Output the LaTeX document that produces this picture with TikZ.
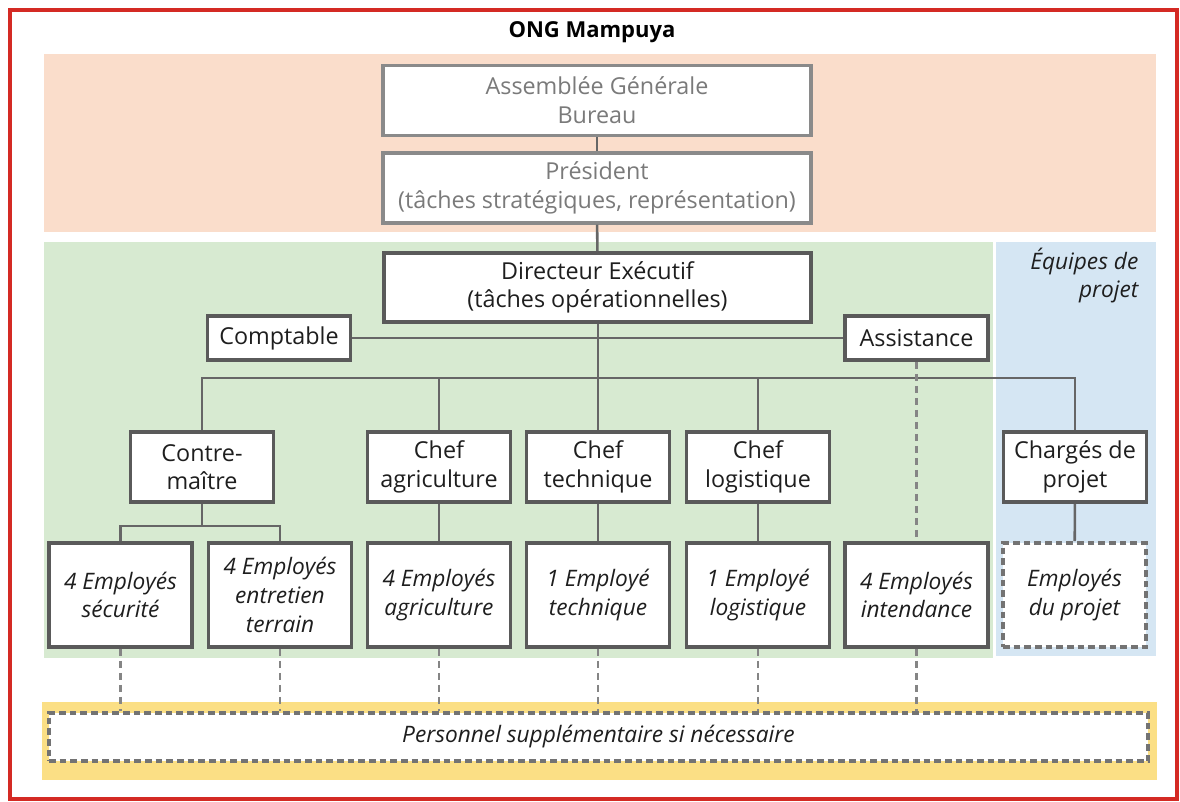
\documentclass[tikz,border=0pt]{standalone}
\usepackage{fontspec}
\setmainfont{Open Sans}
\definecolor{redb}{HTML}{D42A24}
\definecolor{orangebg}{HTML}{FADDCB}
\definecolor{greenbg}{HTML}{D7EAD1}
\definecolor{bluebg}{HTML}{D5E6F3}
\definecolor{yellowbg}{HTML}{FBDF85}
\definecolor{boxgray}{HTML}{5A5A5A}
\definecolor{lightbox}{HTML}{8A8A8A}
\definecolor{txtgray}{HTML}{7A7A7A}
\definecolor{txt}{HTML}{1E1E1E}
\definecolor{linegray}{HTML}{666666}
\tikzset{
  basebox/.style={draw=boxgray, line width=2.8pt, fill=white, align=center, inner sep=1pt, text=txt,
    font=\fontsize{17.5}{21.5}\selectfont},
  topbox/.style={basebox, draw=lightbox, text=txtgray, line width=2.6pt, minimum width=321pt, minimum height=52.5pt},
  dirbox/.style={basebox, line width=3.3pt, draw=boxgray, minimum width=320.25pt, minimum height=51.75pt},
  smallbox/.style={basebox, minimum width=107.25pt, minimum height=33pt},
  chefbox/.style={basebox, minimum width=107.25pt, minimum height=52.5pt},
  empbox/.style={basebox, minimum width=107.25pt, minimum height=78pt, font=\itshape\fontsize{17}{21.5}\selectfont},
  dashbox/.style={empbox, draw=boxgray!85, dash pattern=on 5pt off 3pt},
  conn/.style={draw=linegray, line width=1.9pt},
  dconn/.style={draw=linegray!80, line width=1.9pt, dash pattern=on 5pt off 4pt},
}
\begin{document}
\begin{tikzpicture}[x=0.75pt,y=-0.75pt]
\useasboundingbox (0,0) rectangle (1180,802);
\fill[white] (0,0) rectangle (1180,802);
\draw[redb, line width=2.6pt] (10,10) rectangle (1177,799);
% bands
\fill[orangebg] (44,54) rectangle (1156,232);
\fill[greenbg] (44,242) rectangle (993,658);
\fill[bluebg] (996,242) rectangle (1156,656);
\fill[yellowbg] (42,702) rectangle (1157,780);
% title
\node[font=\bfseries\fontsize{16.5}{18}\selectfont, text=black] (title) at (592,32) {ONG Mampuya};
\node[anchor=north east, align=right, text=txt, font=\itshape\fontsize{17}{21.5}\selectfont] (equipes) at (1143,243) {Équipes de\\projet};
% top boxes
\node[topbox] (ag) at (597,100.5) {Assemblée Générale\\Bureau};
\node[topbox] (pres) at (597,188) {Président\\(tâches stratégiques, représentation)};
\node[dirbox] (dir) at (597.5,287.5) {Directeur Exécutif\\(tâches opérationnelles)};
\node[smallbox] (compt) at (279,338) {Comptable};
\node[smallbox] (assist) at (916.5,338) {Assistance};
% level 2
\node[chefbox] (cm) at (202,467) {Contre-\\maître};
\node[chefbox] (ca) at (439,467) {Chef\\agriculture};
\node[chefbox] (ct) at (598,467) {Chef\\technique};
\node[chefbox] (cl) at (758,467) {Chef\\logistique};
\node[chefbox] (cp) at (1075,467) {Chargés de\\projet};
% level 3
\node[empbox] (e1) at (120.5,595) {4 Employés\\sécurité};
\node[empbox] (e2) at (280,595) {4 Employés\\entretien\\terrain};
\node[empbox] (e3) at (439,595) {4 Employés\\agriculture};
\node[empbox] (e4) at (598,595) {1 Employé\\technique};
\node[empbox] (e5) at (758,595) {1 Employé\\logistique};
\node[empbox] (e6) at (916.5,595) {4 Employés\\intendance};
\node[dashbox] (e7) at (1074.5,595) {Employés\\du projet};
% personnel
\node[basebox, draw=boxgray!85, dash pattern=on 5pt off 3pt, minimum width=824.25pt, minimum height=36pt,
  font=\itshape\fontsize{17}{21.5}\selectfont] (pers) at (598.5,737) {Personnel supplémentaire si nécessaire};
% connectors
\coordinate (bus) at (598,378);
\draw[conn] (ag) -- (pres);
\draw[conn] (pres) -- (dir);
\draw[conn] (compt) -- (assist);
\draw[conn] (dir.south -| ct.north) -- (ct.north);
\draw[conn] (cm.north) |- (bus) -| (cp.north);
\draw[conn] (ca.north) -- (ca.north |- bus);
\draw[conn] (cl.north) -- (cl.north |- bus);
\draw[dconn] (assist) -- (e6);
\draw[conn] (cm.south) -- ++(0,22) coordinate (sub);
\draw[conn] (e1.north) |- (sub) -| (e2.north);
\draw[conn] (ca) -- (e3);
\draw[conn] (ct) -- (e4);
\draw[conn] (cl) -- (e5);
\draw[conn] (cp) -- (e7);
\foreach \n in {e1,e2,e3,e4,e5,e6}{
  \draw[dconn] (\n.south) -- (\n.south |- pers.north);
}
\end{tikzpicture}
\end{document}
